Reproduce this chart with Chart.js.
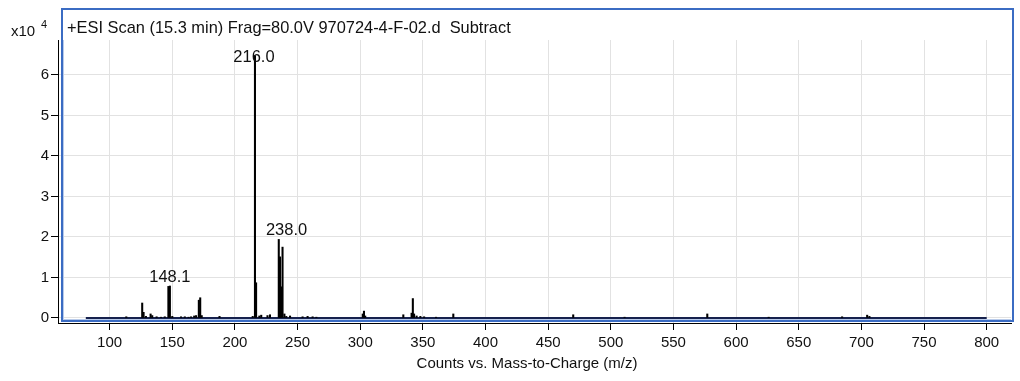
<!DOCTYPE html>
<html>
<head>
<meta charset="utf-8">
<script src="https://cdn.jsdelivr.net/npm/chart.js@4.4.1/dist/chart.umd.min.js"></script>
<style>
  html, body { margin: 0; padding: 0; background: #ffffff; }
  #wrap { width: 1020px; height: 381px; position: relative; }
</style>
</head>
<body>
<div id="wrap"><canvas id="spectrum" width="1020" height="381"></canvas></div>
<script>
// Centroided peaks: m/z and abundance in units of 10^4 counts
const mzValues = [
  113.3, 126.0, 127.1, 129.0, 132.7, 134.0, 137.5, 141.0, 144.0, 146.9,
  148.1, 150.0, 157.0, 160.0, 163.0, 165.0, 167.5, 169.0, 171.2, 172.3,
  173.5, 187.7, 214.2, 216.0, 216.9, 219.5, 221.0, 226.0, 228.0, 235.0,
  236.0, 237.0, 238.0, 239.5, 241.0, 244.0, 254.0, 258.0, 262.0, 265.0,
  302.0, 303.0, 304.0, 334.4, 341.0, 342.0, 343.0, 345.0, 348.0, 351.0,
  360.5, 374.3, 470.0, 511.0, 577.0, 626.0, 684.6, 704.6, 706.4
];
const abundance = [
  0.03, 0.37, 0.14, 0.04, 0.10, 0.06, 0.03, 0.02, 0.03, 0.78,
  0.79, 0.04, 0.03, 0.03, 0.02, 0.03, 0.05, 0.06, 0.44, 0.50,
  0.06, 0.04, 0.04, 6.48, 0.87, 0.05, 0.07, 0.06, 0.08, 1.94,
  1.51, 0.77, 1.75, 0.10, 0.04, 0.05, 0.03, 0.04, 0.03, 0.02,
  0.10, 0.17, 0.05, 0.08, 0.12, 0.48, 0.10, 0.05, 0.04, 0.03,
  0.02, 0.10, 0.08, 0.02, 0.10, 0.02, 0.03, 0.07, 0.04
];
// Scan range of the acquisition (baseline trace)
const scanRange = [81, 800];
// Annotated peaks
const labelledMz = [148.1, 216.0, 238.0];
// Axis ticks
const xTickValues = [100, 150, 200, 250, 300, 350, 400, 450, 500, 550, 600, 650, 700, 750, 800];
const yTickValues = [0, 1, 2, 3, 4, 5, 6];

const titleText = '+ESI Scan (15.3 min) Frag=80.0V 970724-4-F-02.d  Subtract';
const xAxisTitle = 'Counts vs. Mass-to-Charge (m/z)';
const FONT = '"Liberation Sans", Arial, sans-serif';

const sticks = mzValues.map((m, i) => ({ x: m, y: abundance[i] }));
const baseline = scanRange.map(m => ({ x: m, y: 0 }));

const decor = {
  id: 'decor',
  beforeDraw(chart) {
    const ctx = chart.ctx;
    ctx.save();
    ctx.fillStyle = '#ffffff';
    ctx.fillRect(0, 0, chart.width, chart.height);
    ctx.restore();
  },
  beforeDatasetsDraw(chart) {
    const ctx = chart.ctx;
    ctx.save();
    // panel frame
    ctx.strokeStyle = '#3b6cc3';
    ctx.lineWidth = 2;
    ctx.strokeRect(62, 9, 951, 312);
    ctx.strokeStyle = '#b9cbea';
    ctx.lineWidth = 1;
    ctx.beginPath();
    ctx.moveTo(63.5, 40); ctx.lineTo(63.5, 319.5);
    ctx.moveTo(63, 319.5); ctx.lineTo(1011, 319.5);
    ctx.stroke();
    ctx.restore();
  },
  afterDraw(chart) {
    const ctx = chart.ctx;
    const xs = chart.scales.x, ys = chart.scales.y;
    const area = chart.chartArea;
    ctx.save();
    ctx.fillStyle = '#111111';
    ctx.textBaseline = 'alphabetic';

    // scan description
    ctx.font = '16.4px ' + FONT;
    ctx.textAlign = 'left';
    ctx.fillText(titleText, 67, 33);

    // exponent of the abundance axis
    ctx.font = '15px ' + FONT;
    ctx.fillText('x10', 11, 36);
    ctx.font = '11px ' + FONT;
    ctx.fillText('4', 41, 28);

    // x axis title
    ctx.font = '15px ' + FONT;
    ctx.textAlign = 'center';
    ctx.fillText(xAxisTitle, 527, 368);

    // peak annotations, placed above the tallest stick near each labelled m/z
    ctx.font = '16.5px ' + FONT;
    const shift = { '238.0': 4, '216.0': -1 };
    labelledMz.forEach(mz => {
      let top = 0;
      mzValues.forEach((m, i) => { if (Math.abs(m - mz) <= 3.5) top = Math.max(top, abundance[i]); });
      const txt = mz.toFixed(1);
      const px = xs.getPixelForValue(mz) + (shift[txt] || 0);
      const py = Math.max(ys.getPixelForValue(top) - 4, area.top + 21.5);
      ctx.fillText(txt, px, py);
    });
    ctx.restore();
  }
};

new Chart(document.getElementById('spectrum'), {
  data: {
    datasets: [
      {
        type: 'line',
        data: baseline,
        borderColor: '#16214d',
        borderWidth: 2,
        pointRadius: 0,
        order: 2
      },
      {
        type: 'bar',
        data: sticks,
        backgroundColor: '#000000',
        borderWidth: 0,
        barThickness: 1.4,
        order: 1
      }
    ]
  },
  options: {
    responsive: false,
    animation: false,
    devicePixelRatio: 1,
    layout: { padding: { left: 0, right: 9, top: 40, bottom: 0 } },
    plugins: { legend: { display: false }, tooltip: { enabled: false }, title: { display: false } },
    scales: {
      x: {
        type: 'linear',
        offset: false,
        min: 58.8,
        max: 819.4,
        afterFit(scale) { scale.height = 58; },
        afterBuildTicks(scale) { scale.ticks = xTickValues.map(v => ({ value: v })); },
        grid: { offset: false, color: '#e2e2e2', tickColor: '#000000', tickLength: 7, drawOnChartArea: true },
        border: { display: true, color: '#000000', width: 1 },
        ticks: {
          color: '#111111',
          font: { family: FONT, size: 15 },
          padding: 4,
          maxRotation: 0,
          autoSkip: false
        }
      },
      y: {
        type: 'linear',
        min: -0.1235,
        max: 6.864,
        afterFit(scale) { scale.width = 58; },
        afterBuildTicks(scale) { scale.ticks = yTickValues.map(v => ({ value: v })); },
        grid: { color: '#e2e2e2', tickColor: '#000000', tickLength: 7 },
        border: { display: true, color: '#000000', width: 1 },
        ticks: {
          color: '#111111',
          font: { family: FONT, size: 15 },
          padding: 2
        }
      }
    }
  },
  plugins: [decor]
});
</script>
</body>
</html>
